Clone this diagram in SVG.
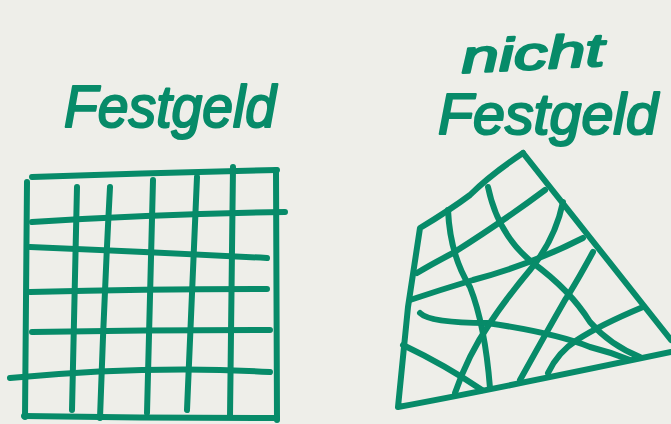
<svg xmlns="http://www.w3.org/2000/svg" width="671" height="424" viewBox="0 0 671 424">
<style>
.s{fill:none;stroke:#078b69;stroke-width:6;stroke-linecap:round;stroke-linejoin:round}
.t{fill:#078b69;stroke:#078b69;stroke-width:2.2;stroke-linejoin:round;font-family:"Liberation Sans",Arial,sans-serif;font-style:italic}
</style>
<rect width="671" height="424" fill="#eeeee9"/>
<g id="label-left">
<text class="t" x="64" y="127" font-size="60" textLength="212" lengthAdjust="spacingAndGlyphs">Festgeld</text>
</g>
<g id="label-right">
<text class="t" x="462" y="73" font-size="46" textLength="143" lengthAdjust="spacingAndGlyphs" transform="rotate(-3 462 73)">nicht</text>
<text class="t" x="438" y="134" font-size="58" textLength="220" lengthAdjust="spacingAndGlyphs">Festgeld</text>
</g>
<g id="grid-regular">
<path class="s" d="M32 177 Q150 173 277 170"/>
<path class="s" d="M27 182 L25 417"/>
<path class="s" d="M276 170 L277 420"/>
<path class="s" d="M24 416 Q150 418 277 418"/>
<path class="s" d="M32 222 Q160 214 285 212"/>
<path class="s" d="M30 247 Q150 252 267 258"/>
<path class="s" d="M30 292 Q150 289 267 289"/>
<path class="s" d="M32 332 Q150 330 270 330"/>
<path class="s" d="M10 378 Q150 365 270 372"/>
<path class="s" d="M77 187 L72 410"/>
<path class="s" d="M110 187 Q104 300 100 418"/>
<path class="s" d="M153 180 L147 413"/>
<path class="s" d="M197 177 L187 410"/>
<path class="s" d="M233 167 L230 417"/>
</g>
<g id="grid-irregular">
<path class="s" d="M523 153 Q490 175 470 195 Q450 210 420 228 L408 307 L398 407 Q480 392 671 352"/>
<path class="s" d="M523 153 L671 340"/>
<path class="s" d="M448 210 Q450 255 470 287 Q485 325 490 388"/>
<path class="s" d="M488 187 Q498 235 533 263 Q570 290 590 322 Q610 345 640 357"/>
<path class="s" d="M545 190 Q505 220 453 253 Q430 265 417 273"/>
<path class="s" d="M583 238 Q530 265 473 280 Q440 290 410 300"/>
<path class="s" d="M420 313 Q430 323 487 323 Q555 333 590 347 Q610 352 630 360"/>
<path class="s" d="M563 202 Q555 240 530 270 Q505 300 490 323 Q468 355 455 393"/>
<path class="s" d="M593 252 Q575 285 565 300 Q545 335 520 380"/>
<path class="s" d="M403 345 Q445 365 482 390"/>
<path class="s" d="M643 307 Q600 325 577 340 Q558 352 548 373"/>
</g>
</svg>
